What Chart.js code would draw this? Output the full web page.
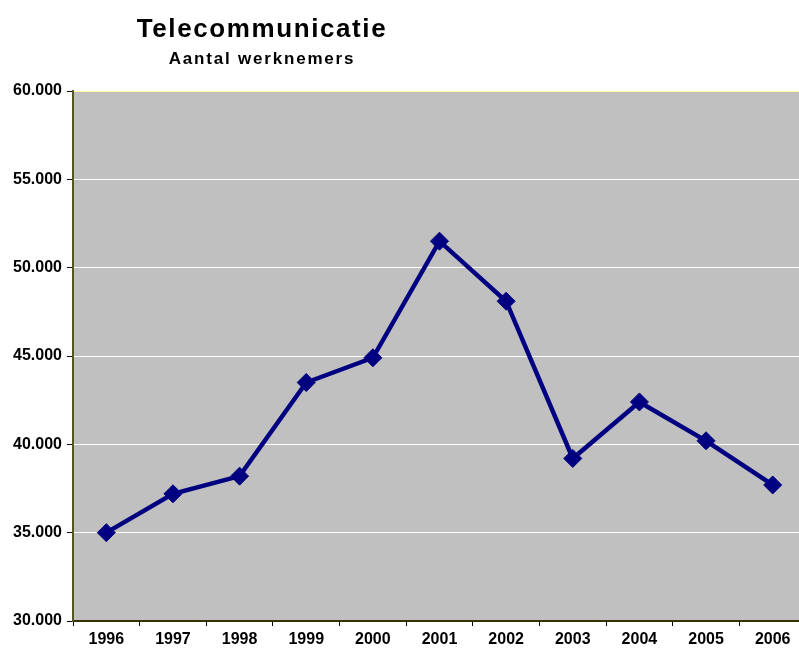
<!DOCTYPE html>
<html>
<head>
<meta charset="utf-8">
<script src="https://cdn.jsdelivr.net/npm/chart.js@4.4.0/dist/chart.umd.min.js"></script>
<style>
    html, body { margin: 0; padding: 0; background: #ffffff; overflow: hidden; }
    #wrap { position: relative; width: 820px; height: 651px; overflow: hidden; }
    #chart { position: absolute; left: 0; top: 0; width: 820px; height: 651px; }
    .title { position: absolute; left: 62px; width: 400px; text-align: center; font-family: "Liberation Sans", Arial, sans-serif; font-weight: bold; color: #000; white-space: nowrap; }
    #mainTitle { top: 15px; font-size: 26px; line-height: 26px; letter-spacing: 1.6px; }
    #subTitle { top: 50px; font-size: 17px; line-height: 17px; letter-spacing: 1.8px; }
</style>
</head>
<body>
<div id="wrap">
    <canvas id="chart" width="820" height="651"></canvas>
    <div class="title" id="mainTitle">Telecommunicatie</div>
    <div class="title" id="subTitle">Aantal werknemers</div>
</div>
<script>
const years = ['1996', '1997', '1998', '1999', '2000', '2001', '2002', '2003', '2004', '2005', '2006'];
const employees = [35000, 37200, 38200, 43500, 44900, 51500, 48100, 39200, 42400, 40200, 37700];
const yTicks = [30000, 35000, 40000, 45000, 50000, 55000, 60000];

function formatThousands(v) {
    return String(v).replace(/\B(?=(\d{3})+(?!\d))/g, '.');
}

const plotBackground = {
    id: 'plotBackground',
    beforeDraw(chart) {
        const a = chart.chartArea;
        const ctx = chart.ctx;
        ctx.save();
        ctx.fillStyle = '#c0c0c0';
        ctx.fillRect(a.left, a.top, a.right - a.left, a.bottom - a.top);
        ctx.restore();
    }
};

const tickFont = { family: '"Liberation Sans", Arial, sans-serif', size: 16, weight: 'bold' };

new Chart(document.getElementById('chart').getContext('2d'), {
    type: 'line',
    data: {
        labels: years,
        datasets: [{
            data: employees,
            borderColor: '#000080',
            backgroundColor: '#000080',
            borderWidth: 4.5,
            tension: 0,
            pointStyle: 'rectRot',
            pointRadius: 9,
            pointBorderWidth: 1,
            pointBorderColor: '#000080',
            pointBackgroundColor: '#000080'
        }]
    },
    plugins: [plotBackground],
    options: {
        responsive: false,
        animation: false,
        layout: { padding: { top: 91, right: 14, left: 0, bottom: 0 } },
        plugins: {
            legend: { display: false },
            tooltip: { enabled: false }
        },
        scales: {
            x: {
                offset: true,
                grid: {
                    offset: true,
                    drawOnChartArea: false,
                    drawTicks: true,
                    tickLength: 5,
                    tickColor: '#000000'
                },
                border: { color: '#333300', width: 2 },
                ticks: { color: '#000000', font: tickFont, padding: 4, maxRotation: 0 },
                afterFit(scale) { scale.height = 30; }
            },
            y: {
                min: 30000,
                max: 60000,
                afterBuildTicks(scale) { scale.ticks = yTicks.map(v => ({ value: v })); },
                grid: {
                    color(ctx) {
                        if (ctx.tick && ctx.tick.value === 60000) return '#ffff99';
                        if (ctx.tick && ctx.tick.value === 30000) return 'rgba(0,0,0,0)';
                        return '#ffffff';
                    },
                    tickColor: '#000000',
                    tickLength: 6,
                    lineWidth: 1
                },
                border: { color: '#555522', width: 2 },
                ticks: {
                    color: '#000000',
                    font: tickFont,
                    padding: 5,
                    callback: v => formatThousands(v)
                },
                afterFit(scale) { scale.width = 73; }
            }
        }
    }
});
</script>
</body>
</html>
